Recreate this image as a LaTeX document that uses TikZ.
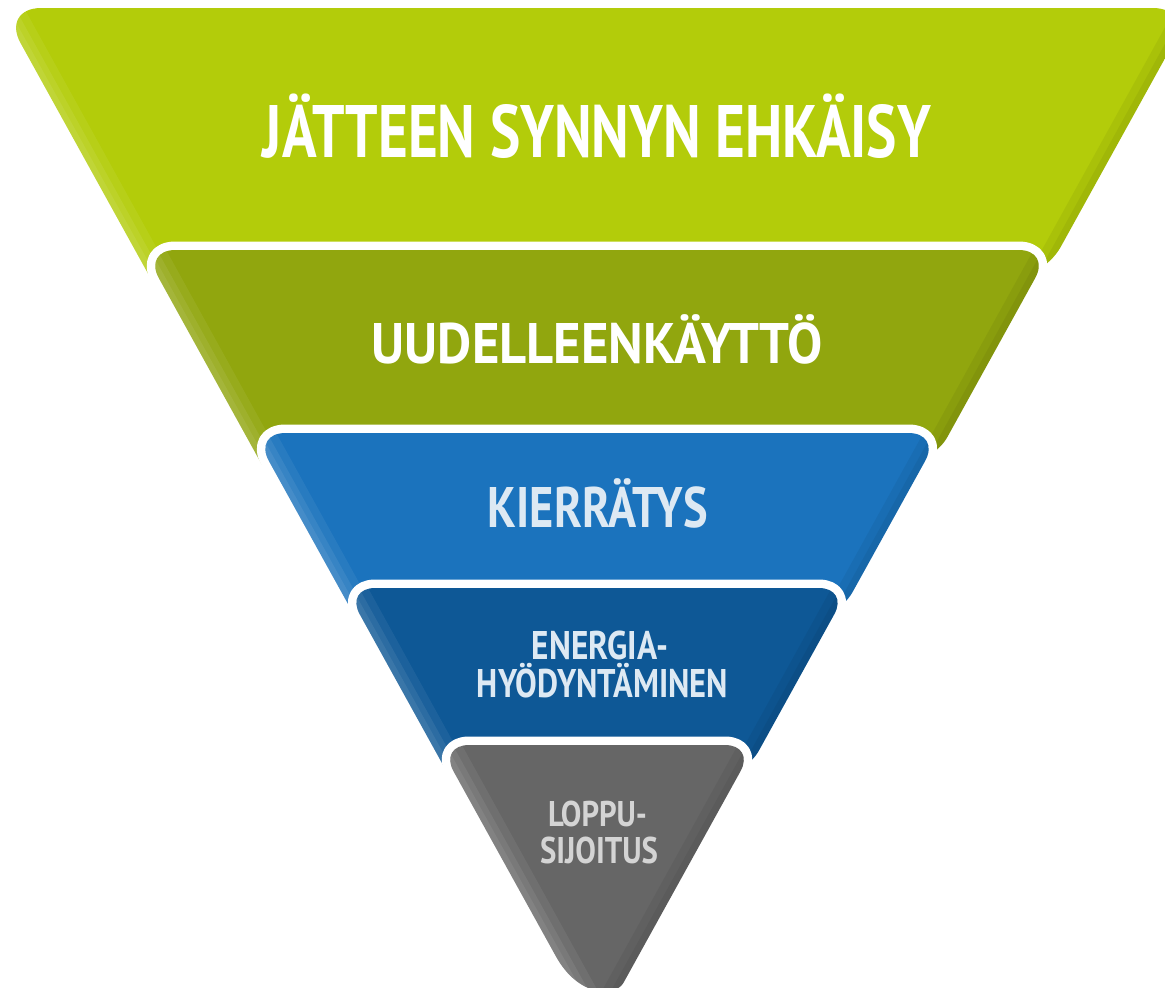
\documentclass[tikz,border=0pt]{standalone}
\usepackage{fontspec}
\usepackage{graphicx}
\newfontfamily\labelfont{PT Sans}
\definecolor{lgreen}{HTML}{B3CC0A}
\definecolor{dgreen}{HTML}{91A60E}
\definecolor{lblue}{HTML}{1B73BD}
\definecolor{dblue}{HTML}{0E5896}
\definecolor{lgray}{HTML}{666666}
\definecolor{bluetext}{HTML}{DDE9F3}
\definecolor{graytext}{HTML}{D4D4D4}
\newcommand{\fitlabel}[3]{\begingroup\sbox0{#3}\sbox2{H}\ht0=\ht2 \dp0=0pt \resizebox{#1}{#2}{\usebox0}\endgroup}
\begin{document}
\begin{tikzpicture}[x=1pt,y=-1pt,
  lbl/.style={inner sep=0pt, anchor=base, font=\labelfont\bfseries},
  band/.style={draw=white, line width=17pt, line join=round},
  hiA/.style={white, opacity=0.06, line width=40pt},
  hiB/.style={white, opacity=0.07, line width=24pt},
  hiC/.style={white, opacity=0.07, line width=12pt},
  shA/.style={black, opacity=0.05, line width=30pt},
  shB/.style={black, opacity=0.05, line width=14pt}]
\useasboundingbox (0,0) rectangle (1165,988);
\clip (0,0) rectangle (1165,988);
% coordinates
\coordinate (L1tl) at (1.2,8);     \coordinate (L1tr) at (1192.8,8);
\coordinate (L1bl) at (152.7,282); \coordinate (L1br) at (1041.3,282);
\coordinate (L2tl) at (143.3,250); \coordinate (L2tr) at (1050.7,250);
\coordinate (L2bl) at (262.1,465); \coordinate (L2br) at (931.9,465);
\coordinate (L3tl) at (253.4,433); \coordinate (L3tr) at (940.6,433);
\coordinate (L3bl) at (356.9,620); \coordinate (L3br) at (837.1,620);
\coordinate (L4tl) at (345.2,588); \coordinate (L4tr) at (848.8,588);
\coordinate (L4bl) at (449.7,777); \coordinate (L4br) at (744.3,777);
\coordinate (L5tl) at (439,745);   \coordinate (L5tr) at (755,745);
\coordinate (L5a) at (555.9,956.3); \coordinate (L5b) at (638.1,956.3);
\coordinate (L5c1) at (578.6,997.4); \coordinate (L5c2) at (615.4,997.4);
\coordinate (L5apex) at (597,1030.7);
% layer 1
\fill[lgreen] (L1bl) [rounded corners=40pt] -- (L1tl) -- (L1tr) -- (L1br) [sharp corners] -- cycle;
\begin{scope}
\clip (L1bl) [rounded corners=40pt] -- (L1tl) -- (L1tr) -- (L1br) [sharp corners] -- cycle;
\draw[hiA] (L1bl) -- (L1tl); \draw[hiB] (L1bl) -- (L1tl); \draw[hiC] (L1bl) -- (L1tl);
\draw[shA] (L1br) -- (L1tr); \draw[shB] (L1br) -- (L1tr);
\end{scope}
% layer 2
\path[band] (L2bl) [rounded corners=32pt] -- (L2tl) -- (L2tr) -- (L2br) [sharp corners] -- cycle;
\fill[dgreen] (L2bl) [rounded corners=32pt] -- (L2tl) -- (L2tr) -- (L2br) [sharp corners] -- cycle;
\begin{scope}
\clip (L2bl) [rounded corners=32pt] -- (L2tl) -- (L2tr) -- (L2br) [sharp corners] -- cycle;
\draw[hiA] (L2bl) -- (L2tl); \draw[hiB] (L2bl) -- (L2tl); \draw[hiC] (L2bl) -- (L2tl);
\draw[shA] (L2br) -- (L2tr); \draw[shB] (L2br) -- (L2tr);
\end{scope}
% layer 3
\path[band] (L3bl) [rounded corners=32pt] -- (L3tl) -- (L3tr) -- (L3br) [sharp corners] -- cycle;
\fill[lblue] (L3bl) [rounded corners=32pt] -- (L3tl) -- (L3tr) -- (L3br) [sharp corners] -- cycle;
\begin{scope}
\clip (L3bl) [rounded corners=32pt] -- (L3tl) -- (L3tr) -- (L3br) [sharp corners] -- cycle;
\draw[hiA] (L3bl) -- (L3tl); \draw[hiB] (L3bl) -- (L3tl); \draw[hiC] (L3bl) -- (L3tl);
\draw[shA] (L3br) -- (L3tr); \draw[shB] (L3br) -- (L3tr);
\end{scope}
% layer 4
\path[band] (L4bl) [rounded corners=30pt] -- (L4tl) -- (L4tr) -- (L4br) [sharp corners] -- cycle;
\fill[dblue] (L4bl) [rounded corners=30pt] -- (L4tl) -- (L4tr) -- (L4br) [sharp corners] -- cycle;
\begin{scope}
\clip (L4bl) [rounded corners=30pt] -- (L4tl) -- (L4tr) -- (L4br) [sharp corners] -- cycle;
\draw[hiA] (L4bl) -- (L4tl); \draw[hiB] (L4bl) -- (L4tl); \draw[hiC] (L4bl) -- (L4tl);
\draw[shA] (L4br) -- (L4tr); \draw[shB] (L4br) -- (L4tr);
\end{scope}
% layer 5
\path[band] (L5a) [rounded corners=30pt] -- (L5tl) -- (L5tr) -- (L5b) [sharp corners] .. controls (L5c2) and (L5c1) .. (L5a) -- cycle;
\fill[lgray] (L5a) [rounded corners=30pt] -- (L5tl) -- (L5tr) -- (L5b) [sharp corners] .. controls (L5c2) and (L5c1) .. (L5a) -- cycle;
\begin{scope}
\clip (L5a) [rounded corners=30pt] -- (L5tl) -- (L5tr) -- (L5b) [sharp corners] .. controls (L5c2) and (L5c1) .. (L5a) -- cycle;
\draw[hiA] (L5apex) -- (L5tl); \draw[hiB] (L5apex) -- (L5tl); \draw[hiC] (L5apex) -- (L5tl);
\draw[shA] (L5apex) -- (L5tr); \draw[shB] (L5apex) -- (L5tr);
\end{scope}
% labels
\node[lbl, text=white] (t1) at (597,157) {\fitlabel{668pt}{52pt}{JÄTTEEN SYNNYN EHKÄISY}};
\node[lbl, text=white] (t2) at (597.5,363) {\fitlabel{451pt}{40pt}{UUDELLEENKÄYTTÖ}};
\node[lbl, text=bluetext] (t3) at (598,527) {\fitlabel{220pt}{40pt}{KIERRÄTYS}};
\node[lbl, text=bluetext] (t4a) at (600,659) {\fitlabel{136pt}{28pt}{ENERGIA-}};
\node[lbl, text=bluetext] (t4b) at (602.5,697) {\fitlabel{251pt}{28pt}{HYÖDYNTÄMINEN}};
\node[lbl, text=graytext] (t5a) at (597.5,826) {\fitlabel{99pt}{25pt}{LOPPU-}};
\node[lbl, text=graytext] (t5b) at (599,863) {\fitlabel{118pt}{26pt}{SIJOITUS}};
\end{tikzpicture}
\end{document}
